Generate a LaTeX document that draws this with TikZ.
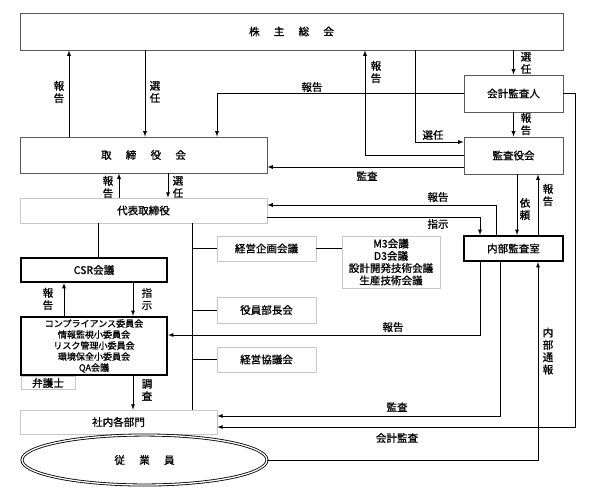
\documentclass[tikz,border=0pt]{standalone}
\usepackage{fontspec}
\setmainfont{Noto Sans CJK JP}[FakeBold=1]
\usetikzlibrary{shapes,arrows,fit,positioning}
\definecolor{lgray}{rgb}{.78,.78,.78}
\definecolor{dgray}{rgb}{.35,.35,.35}
\def\Gap{\hspace{1.35em}}

\begin{document}
\begin{tikzpicture}[x=0.03cm,y=-0.03cm,% pixel grid of the chart, y downwards
		every node/.style={
			align=center,	% use this so that the "\\" for line break works
			inner sep=0pt,
			font=\fontsize{9}{10.5}\selectfont
		},
		main/.style={rectangle,draw=dgray,line width=0.8pt,fill=white},
		pale/.style={rectangle,draw=lgray,line width=0.6pt},
		heavy/.style={rectangle,draw=black,line width=1.8pt},
		every edge/.style={draw,line width=0.6pt},
		>=latex, line width=0.6pt
	]
	\useasboundingbox (0,0) rectangle (600,497);
	% boxes
	\node[main,minimum width=16.29cm,minimum height=1.11cm](R1) at (291.5,31.5){株\Gap 主\Gap 総\Gap 会};
	\node[main,minimum width=7.41cm,minimum height=1.08cm](R2) at (143.5,155){取\Gap 締\Gap 役\Gap 会};
	\node[main,minimum width=2.97cm,minimum height=1.11cm](R3) at (513.5,93.5){会計監査人};
	\node[main,minimum width=2.97cm,minimum height=1.11cm](R4) at (513.5,155.5){監査役会};
	\node[pale,minimum width=7.41cm,minimum height=0.75cm](R5) at (143.5,210.5){代表取締役};
	\node[heavy,minimum width=2.97cm,minimum height=0.75cm](R6) at (513.5,248.5){内部監査室};
	\node[heavy,minimum width=4.38cm,minimum height=0.72cm](R7) at (94,270){CSR会議};
	\node[heavy,minimum width=4.38cm,minimum height=1.74cm,font=\fontsize{7.7}{9.4}\selectfont](R8) at (94,346)
		{コンプライアンス委員会\\情報監視小委員会\\リスク管理小委員会\\環境保全小委員会\\QA会議};
	\node[pale,minimum width=1.62cm,minimum height=0.39cm](R9) at (48,383){弁護士};
	\node[pale,minimum width=5.91cm,minimum height=0.72cm](R10) at (118.5,422){社内各部門};
	\node[ellipse,draw=black,line width=0.7pt,double=white,double distance=1.1pt,minimum width=7.35cm,minimum height=1.5cm](R11) at (144.5,460){従\Gap 業\Gap 員};
	\node[pale,minimum width=2.97cm,minimum height=0.75cm](R12) at (266.5,248.5){経営企画会議};
	\node[pale,minimum width=2.94cm,minimum height=1.56cm](R13) at (391,262){M3会議\\D3会議\\設計開発技術会議\\生産技術会議};
	\node[pale,minimum width=2.97cm,minimum height=0.78cm](R14) at (266.5,310){役員部長会};
	\node[pale,minimum width=2.97cm,minimum height=0.75cm](R15) at (266.5,359.5){経営協議会};

	% where the lines run
	\coordinate (P1) at (69,0);
	\coordinate (P2) at (145,0);
	\coordinate (P3) at (217,0);
	\coordinate (P4) at (365,0);
	\coordinate (P5) at (415,142);
	\coordinate (P6) at (119,0);
	\coordinate (P7) at (168,0);
	\coordinate (P8) at (496,205);
	\coordinate (P9) at (480,217);
	\coordinate (P10) at (517,0);
	\coordinate (P11) at (538,0);
	\coordinate (P12) at (575,427);
	\coordinate (P13) at (500,416);
	\coordinate (P14) at (480,335);
	\coordinate (P15) at (192,0);
	\coordinate (P16) at (98,0);
	\coordinate (P17) at (64,0);
	\coordinate (P18) at (133,0);
	\coordinate (Q) at (0,167);

	\path[->]
	(R2.north -| P1) edge [] node [] {} (R1.south -| P1)
	(R1.south -| P2) edge [] node [] {} (R2.north -| P2)
	(R1.south -| R3.north) edge [] node [] {} (R3.north)
	(R3.south) edge [] node [] {} (R4.north)
	(R5.north -| P6) edge [] node [] {} (R2.south -| P6)
	(R2.south -| P7) edge [] node [] {} (R5.north -| P7)
	(R4.south -| P10) edge [] node [] {} (R6.north -| P10)
	(R6.north -| P11) edge [] node [] {} (R4.south -| P11)
	(R8.north -| P17) edge [] node [] {} (R7.south -| P17)
	(R7.south -| P18) edge [] node [] {} (R8.north -| P18)
	(R8.south -| P18) edge [] node [] {} (R10.north -| P18)
	;
	\draw[->] (R3.west) -| (R2.north -| P3);
	\draw[->] (R1.south -| P5) |- (R4.west |- P5);
	\draw[->] (R4.west) -| (R1.south -| P4);
	\draw[->] (R4.west |- Q) -- (R2.east |- Q);
	\draw[->] (R6.north -| P8) |- (R5.east |- P8);
	\draw[->] (R5.east |- P9) -| (R6.north -| P9);
	\draw[->] (R6.south -| P14) |- (R8.east |- P14);
	\draw[->] (R6.south -| P13) |- (R10.east |- P13);
	\draw[->] (R3.east) -| (P12) -- (R10.east |- P12);
	\draw[->] (R11.east) -| (R6.south -| P11);
	\draw (R5.south -| P15) -- (R10.north -| P15);
	\draw (R5.south -| P16) -- (R7.north -| P16);
	\draw (P15 |- R12.west) -- (R12.west);
	\draw (R12.east) -- (R12.east -| R13.west);
	\draw (P15 |- R14.west) -- (R14.west);
	\draw (P15 |- R15.west) -- (R15.west);

	% labels
	\node (L1) at (59,92) {報\\告};
	\node (L2) at (155,92) {選\\任};
	\node (L3) at (312,87) {報告};
	\node (L4) at (526,63) {選\\任};
	\node (L5) at (526,124) {報\\告};
	\node (L6) at (433,135) {選任};
	\node (L7) at (376,72) {報\\告};
	\node (L8) at (367,176) {監査};
	\node (L9) at (108,187) {報\\告};
	\node (L10) at (178,187) {選\\任};
	\node (L11) at (438,197) {報告};
	\node (L12) at (438,224) {指示};
	\node (L13) at (525,209) {依\\頼};
	\node (L14) at (548,195) {報\\告};
	\node (L15) at (393,327) {報告};
	\node (L16) at (48,299) {報\\告};
	\node (L17) at (147,299) {指\\示};
	\node (L18) at (147,390) {調\\査};
	\node (L19) at (397,407) {監査};
	\node (L20) at (397,438) {会計監査};
	\node (L21) at (548,351) {内\\部\\通\\報};
\end{tikzpicture}
\end{document}
